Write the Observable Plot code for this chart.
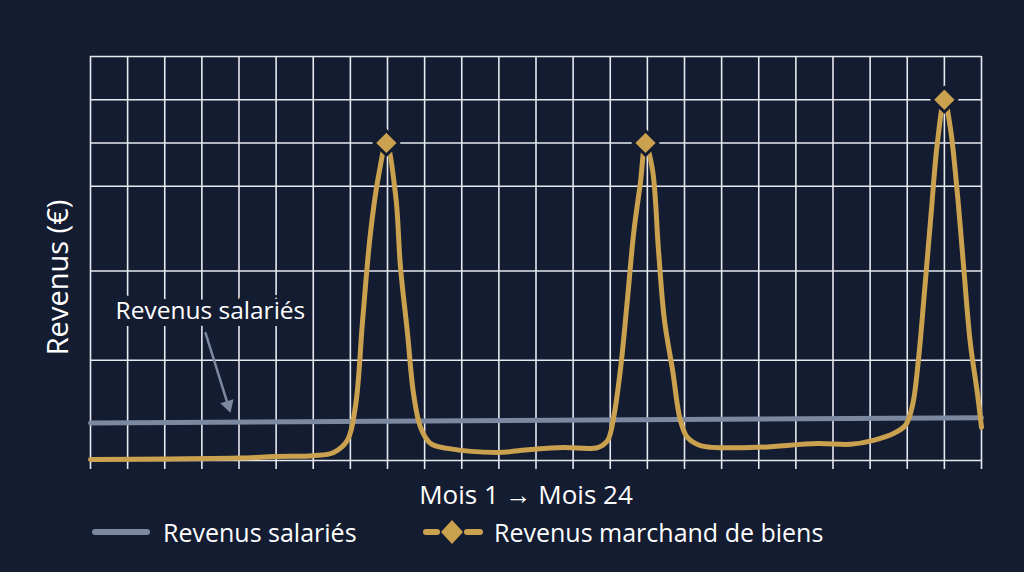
<!DOCTYPE html>
<html><head><meta charset="utf-8">
<script src="https://cdn.jsdelivr.net/npm/d3@7"></script>
<script src="https://cdn.jsdelivr.net/npm/@observablehq/plot@0.6"></script>
<style>
html,body{margin:0;padding:0;background:#141c31;width:1024px;height:572px;overflow:hidden;font-family:"Open Sans",sans-serif;}
#chart svg{display:block;}
#legend{position:relative;height:60px;color:#fff;font-size:25px;}
#legend .item{position:absolute;top:-2px;height:44px;display:flex;align-items:center;white-space:nowrap;}
#legend svg{display:block;}
</style></head><body>
<div id="chart"></div>
<div id="legend"></div>
<script>
// Data (x = month index 0..24, y = revenue in arbitrary units 0..100)
const mois = [0, 2, 4, 5, 6, 6.55, 6.92, 7.14, 7.33, 7.54, 7.76, 7.97, 8.22, 8.35, 8.54, 8.7, 8.89, 9.16, 9.62, 10.96, 11.85, 12.74, 13.66, 13.93, 14.09, 14.28, 14.46, 14.63, 14.81, 14.95, 15.14, 15.3, 15.46, 15.68, 15.89, 16.08, 16.43, 17.78, 19.58, 20.47, 21.09, 21.63, 21.95, 22.14, 22.3, 22.46, 22.65, 22.81, 23.0, 23.16, 23.35, 23.52, 23.7, 23.89, 24.0];
const marchand = [0.25, 0.4, 0.6, 1.0, 1.2, 2.0, 5.0, 13.6, 34.7, 56.2, 70.5, 78.6, 65.6, 47.8, 31.4, 16.6, 8.2, 4.2, 3.0, 2.0, 2.7, 3.2, 3.2, 5.0, 10.6, 23.0, 39.6, 56.2, 68.6, 78.6, 71.8, 52.0, 34.7, 22.3, 9.9, 5.7, 3.7, 3.2, 4.2, 4.0, 5.0, 6.7, 8.7, 13.6, 24.8, 41.3, 61.9, 78.5, 89.3, 82.4, 66.1, 47.8, 29.0, 16.6, 8.2];
const moisSalaire = [0, 24];
const salaire = [9.3, 10.6];
const grilleX = d3.range(0, 25);
const grilleY = [0, 24.8, 46.9, 67.9, 78.6, 89.3, 100];
const series = ["Revenus salariés", "Revenus marchand de biens"];
const titreY = "Revenus (€)";
const titreX = "Mois 1 → Mois 24";
const annotTexte = ["Revenus salariés"];
const annotPos = [3.23, 37.0];
const flechePos = [3.1, 31.5, 3.77, 11.8];

const bg = "#141c31";
const gold = "#c9a14f";
const grey = "#7c889f";
const gridC = "#e6e9ef";

const W = 1024, H = 512, ML = 90, MR = 43, MT = 56, MB = 52;
const serieM = mois.map((m, i) => ({mois: m, v: marchand[i]}));
const serieS = moisSalaire.map((m, i) => ({mois: m, v: salaire[i]}));
const pics = serieM.filter((d, i, a) => i > 0 && i < a.length - 1 && d.v > a[i-1].v && d.v > a[i+1].v && d.v > 50);

// arrow head orientation in screen space
const kx = (W - ML - MR) / 24, ky = (H - MT - MB) / 100;
const adx = (flechePos[2] - flechePos[0]) * kx, ady = (flechePos[1] - flechePos[3]) * ky;
const alen = Math.hypot(adx, ady), ux = adx / alen, uy = ady / alen;
const headAngle = Math.atan2(ux, uy) * 180 / Math.PI; // from downward
const headR = 5.2;
const headBack = 2 * Math.sqrt(headR * headR * Math.PI / (Math.sqrt(3) * 3));

const plot = Plot.plot({
  width: W, height: H,
  marginLeft: ML, marginRight: MR, marginTop: MT, marginBottom: MB,
  x: {domain: [0, 24]},
  y: {domain: [0, 100], axis: null},
  style: {background: "transparent", color: "#fff", fontFamily: "Open Sans"},
  marks: [
    Plot.ruleX(grilleX, {x: d => d, stroke: gridC, strokeWidth: 1.6}),
    Plot.ruleY(grilleY, {y: d => d, stroke: gridC, strokeWidth: 1.6}),
    Plot.axisX({ticks: grilleX, tickSize: 9, tickFormat: () => "", stroke: gridC, strokeWidth: 1.6, label: null}),
    Plot.text(annotTexte, {x: () => annotPos[0], y: () => annotPos[1], text: d => d, fill: "#fff", stroke: bg, strokeWidth: 14, paintOrder: "stroke", fontSize: 24.5}),
    Plot.arrow([flechePos], {x1: d => d[0], y1: d => d[1], x2: d => d[2], y2: d => d[3], stroke: grey, strokeWidth: 2.5, headLength: 0, insetEnd: 6}),
    Plot.dot([flechePos], {x: d => d[2], y: d => d[3], symbol: "triangle", r: headR, fill: grey, rotate: 180 - headAngle, dx: -headBack * ux, dy: -headBack * uy}),
    Plot.line(serieS, {x: "mois", y: "v", stroke: grey, strokeWidth: 5}),
    Plot.line(serieM, {x: "mois", y: "v", stroke: gold, strokeWidth: 5, curve: "catmull-rom"}),
    Plot.dot(pics, {x: "mois", y: "v", symbol: "diamond2", r: 11, fill: gold, stroke: bg, strokeWidth: 3}),
    Plot.text([titreY], {text: d => d, frameAnchor: "left", textAnchor: "middle", lineAnchor: "middle", rotate: -90, dx: -32, dy: 19, fontSize: 29, fill: "#fff"}),
    Plot.text([titreX], {text: d => d, frameAnchor: "bottom", textAnchor: "middle", lineAnchor: "middle", dy: 35, dx: -10, fontSize: 26, fill: "#fff"})
  ]
});
document.getElementById("chart").appendChild(plot);

// Legend
const leg = document.getElementById("legend");
leg.innerHTML = `
<div class="item" style="left:89px"><svg width="64" height="14"><line x1="6" y1="7" x2="58" y2="7" stroke="${grey}" stroke-width="6" stroke-linecap="round"/></svg></div>
<div class="item" style="left:163px">${series[0]}</div>
<div class="item" style="left:421px"><svg width="64" height="28"><line x1="5" y1="14" x2="16" y2="14" stroke="${gold}" stroke-width="6" stroke-linecap="round"/><line x1="46" y1="14" x2="59" y2="14" stroke="${gold}" stroke-width="6" stroke-linecap="round"/><polygon points="31,2 42,14 31,26 20,14" fill="${gold}"/></svg></div>
<div class="item" style="left:494px">${series[1]}</div>`;
</script>
</body></html>
